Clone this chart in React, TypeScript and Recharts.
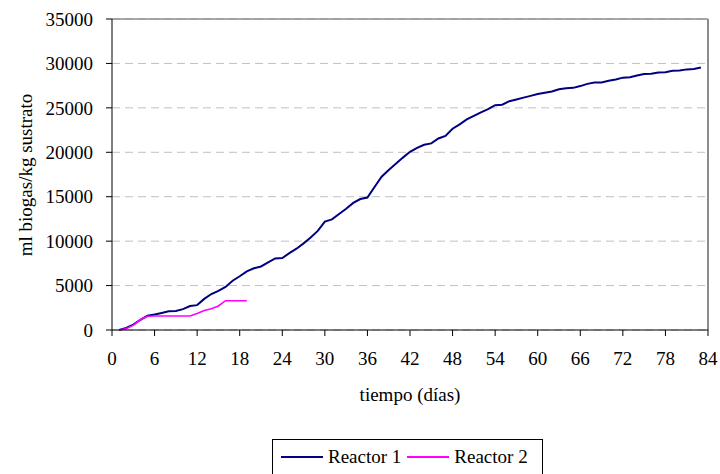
import {
  LineChart,
  Line,
  XAxis,
  YAxis,
  CartesianGrid,
  ReferenceLine,
} from 'recharts';

const FONT = 'Liberation Serif, serif';

// Reactor 1: dias 1..83
const reactor1Days = [
  1, 2, 3, 4, 5, 6, 7, 8, 9, 10, 11, 12, 13, 14, 15, 16, 17, 18, 19, 20, 21,
  22, 23, 24, 25, 26, 27, 28, 29, 30, 31, 32, 33, 34, 35, 36, 37, 38, 39, 40,
  41, 42, 43, 44, 45, 46, 47, 48, 49, 50, 51, 52, 53, 54, 55, 56, 57, 58, 59,
  60, 61, 62, 63, 64, 65, 66, 67, 68, 69, 70, 71, 72, 73, 74, 75, 76, 77, 78,
  79, 80, 81, 82, 83,
];
const reactor1Values = [
  0, 230, 600, 1150, 1600, 1750, 1920, 2100, 2150, 2350, 2700, 2800, 3500,
  4050, 4400, 4850, 5550, 6050, 6600, 6950, 7150, 7600, 8050, 8100, 8650, 9150,
  9750, 10400, 11150, 12200, 12450, 13050, 13650, 14300, 14740, 14900, 16100,
  17250, 18000, 18700, 19400, 20050, 20500, 20850, 21000, 21550, 21850, 22650,
  23150, 23700, 24100, 24500, 24850, 25300, 25350, 25750, 25950, 26150, 26350,
  26550, 26700, 26850, 27100, 27200, 27250, 27450, 27700, 27850, 27850, 28050,
  28200, 28400, 28450, 28650, 28800, 28850, 28990, 29000, 29170, 29200, 29330,
  29380, 29550,
];

// Reactor 2: dias 1..19
const reactor2Days = [
  1, 2, 3, 4, 5, 6, 7, 8, 9, 10, 11, 12, 13, 14, 15, 16, 17, 18, 19,
];
const reactor2Values = [
  0, 150, 550, 1150, 1550, 1575, 1575, 1575, 1575, 1575, 1575, 1850, 2200,
  2400, 2700, 3300, 3300, 3300, 3300,
];

const xTicks = [0, 6, 12, 18, 24, 30, 36, 42, 48, 54, 60, 66, 72, 78, 84];
const yTicks = [0, 5000, 10000, 15000, 20000, 25000, 30000, 35000];

const reactor1 = reactor1Days.map((day, i) => ({ day, value: reactor1Values[i] }));
const reactor2 = reactor2Days.map((day, i) => ({ day, value: reactor2Values[i] }));

const tickStyle = { fill: '#000', fontSize: 19, fontFamily: FONT };

function XLabel({ viewBox }: any) {
  const { x, y, width } = viewBox;
  return (
    <text
      x={x + width / 2}
      y={y + 71}
      textAnchor="middle"
      fontSize={19}
      fontFamily={FONT}
      fill="#000"
    >
      tiempo (días)
    </text>
  );
}

function YLabel() {
  return (
    <text
      x={25}
      y={175}
      transform="rotate(-90, 25, 175)"
      textAnchor="middle"
      dominantBaseline="central"
      fontSize={19}
      fontFamily={FONT}
      fill="#000"
    >
      ml biogas/kg sustrato
    </text>
  );
}

function LegendBox() {
  const item = (color: string, label: string) => (
    <div style={{ display: 'flex', alignItems: 'center', marginRight: 6 }}>
      <span
        style={{
          display: 'inline-block',
          width: 42,
          height: 0,
          borderTop: `2px solid ${color}`,
          marginRight: 5,
        }}
      />
      <span>{label}</span>
    </div>
  );
  return (
    <div
      style={{
        position: 'absolute',
        left: 272,
        top: 439,
        width: 271,
        height: 40,
        border: '1px solid #000',
        boxSizing: 'border-box',
        display: 'flex',
        alignItems: 'flex-start',
        paddingLeft: 8,
        paddingTop: 5,
        fontFamily: FONT,
        fontSize: 19,
        lineHeight: '24px',
        color: '#000',
        background: '#fff',
      }}
    >
      {item('#000080', 'Reactor 1')}
      {item('#ff00ff', 'Reactor 2')}
    </div>
  );
}

export default function App() {
  return (
    <div
      style={{
        position: 'absolute',
        left: 0,
        top: 0,
        width: 720,
        height: 474,
        overflow: 'hidden',
        background: '#fff',
      }}
    >
      <LineChart
        width={720}
        height={474}
        margin={{ top: 19, right: 12, left: 0, bottom: 0 }}
      >
        <CartesianGrid
          horizontal
          vertical={false}
          stroke="#c0c0c0"
          strokeDasharray="8 5"
        />
        <XAxis
          type="number"
          dataKey="day"
          domain={[0, 84]}
          ticks={xTicks}
          interval={0}
          height={144}
          tick={tickStyle}
          tickSize={6}
          tickMargin={16}
          stroke="#000"
          label={<XLabel />}
        />
        <YAxis
          type="number"
          domain={[0, 35000]}
          ticks={yTicks}
          interval={0}
          width={112}
          tick={tickStyle}
          tickSize={6}
          tickMargin={13}
          stroke="#000"
          label={<YLabel />}
        />
        <ReferenceLine y={35000} stroke="#8c8c8c" strokeWidth={1.5} />
        <ReferenceLine x={84} stroke="#8c8c8c" strokeWidth={2} />
        <Line
          data={reactor1}
          dataKey="value"
          name="Reactor 1"
          type="linear"
          stroke="#000080"
          strokeWidth={2}
          dot={false}
          isAnimationActive={false}
        />
        <Line
          data={reactor2}
          dataKey="value"
          name="Reactor 2"
          type="linear"
          stroke="#ff00ff"
          strokeWidth={1.6}
          dot={false}
          isAnimationActive={false}
        />
      </LineChart>
      <LegendBox />
    </div>
  );
}
